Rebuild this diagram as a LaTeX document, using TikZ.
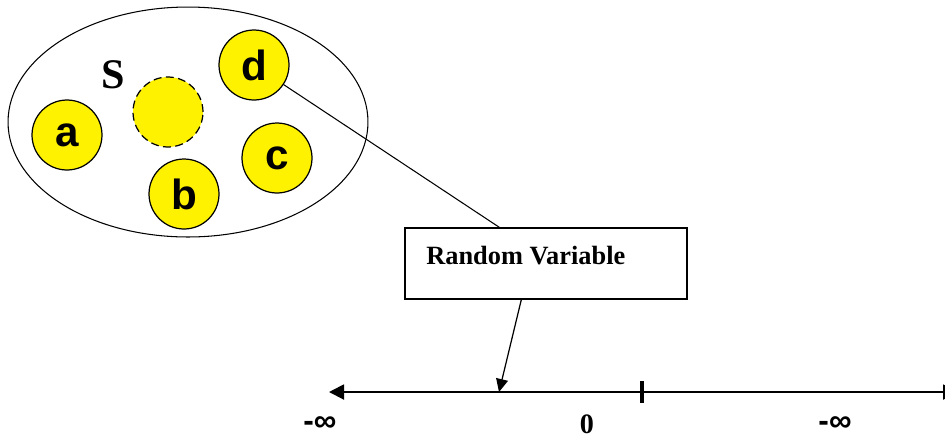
\documentclass[tikz,border=0pt]{standalone}
\usepackage{fontspec}
\setmainfont{Liberation Serif}
\setsansfont{Liberation Sans}
\usetikzlibrary{shapes.geometric,arrows.meta}
\tikzset{
 elem/.style={circle,draw,fill=yellow,minimum size=1.4cm,inner sep=0pt,line width=.7pt,
  font=\sffamily\bfseries\fontsize{24}{24}\selectfont},
 rvbox/.style={draw,rectangle,minimum width=5.64cm,minimum height=1.42cm,line width=.8pt},
 inflab/.style={inner sep=0pt,font=\sffamily\bfseries\fontsize{18}{18}\selectfont},
}
\begin{document}
\begin{tikzpicture}[x=.02cm,y=-.02cm]
\useasboundingbox (0,0) rectangle (945,437);
\node[ellipse,draw,minimum width=7.2cm,minimum height=4.6cm,line width=.6pt] (S) at (188,122) {};
\node[font=\bfseries\fontsize{24}{24}\selectfont] (Slab) at (113,75) {S};
\foreach \n/\x/\y in {a/67/135,b/184/194,c/277/158,d/254/65}
 \node[elem] (\n) at (\x,\y) {\n};
\node[elem,dash pattern=on 4.5pt off 2.5pt] (e) at (168,112) {};
\node[rvbox] (rv) at (546,263.5) {};
\node[inner sep=0pt,anchor=west,font=\bfseries\fontsize{15}{15}\selectfont] (rvtxt) at (426,256) {Random Variable};
\coordinate (lft) at (329,392); \coordinate (rgt) at (958,392);
\coordinate (hit) at (499,392);
\draw[line width=1.1pt,{Triangle[length=.3cm,width=.3cm]}-{Triangle[length=.3cm,width=.3cm]}] (lft) -- (rgt);
\draw[line width=.6pt] (d) -- ([xshift=1.9cm]rv.north west);
\draw[line width=.7pt,-{Triangle[length=.26cm,width=.24cm]}] ([xshift=2.34cm]rv.south west) -- (hit);
\node[fill=black,inner sep=0pt,minimum width=.08cm,minimum height=.44cm] (tick) at (642,392) {};
\node[inflab] (minf) at (320,424) {-∞};
\node[inflab] (pinf) at (835,424) {-∞};
\node[inner sep=0pt,font=\bfseries\fontsize{16}{16}\selectfont] (zero) at (587,424) {0};
\end{tikzpicture}
\end{document}
